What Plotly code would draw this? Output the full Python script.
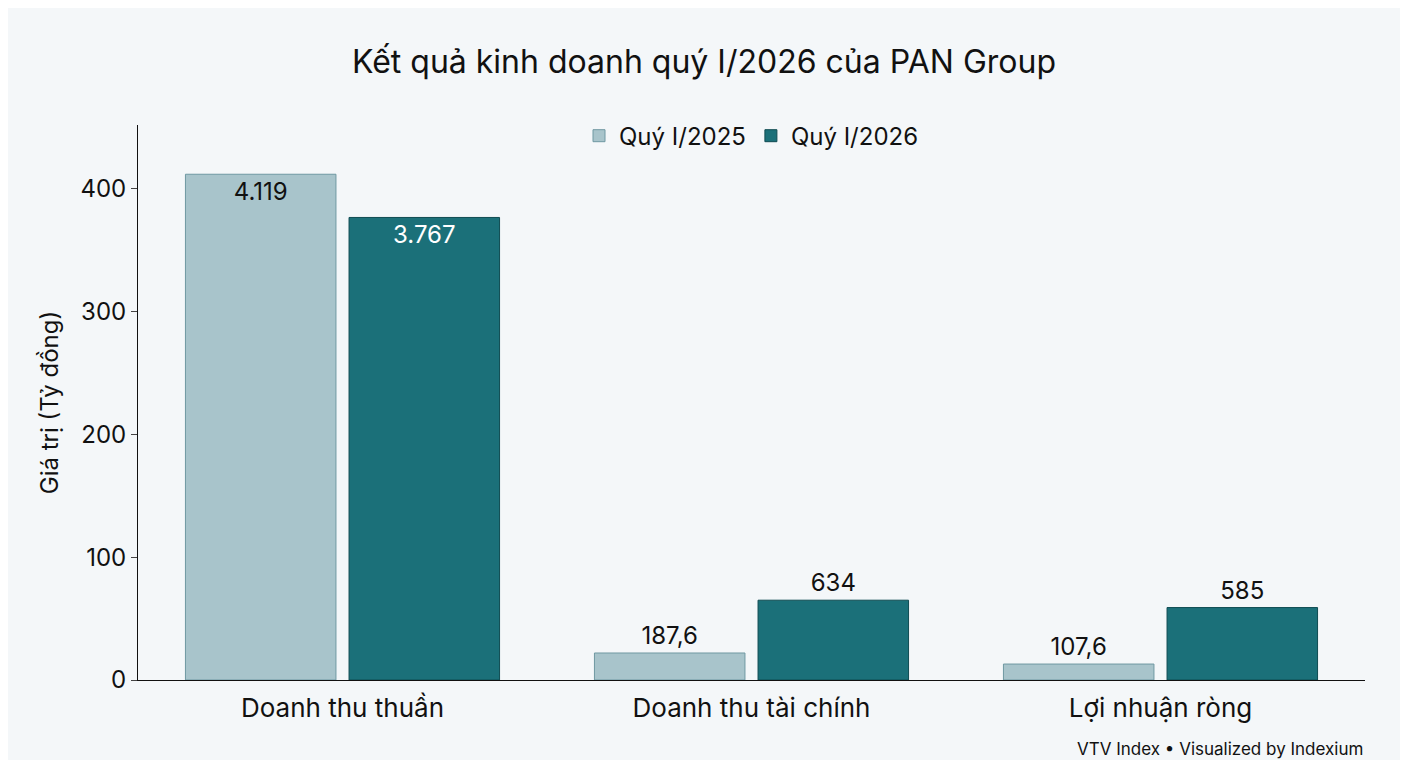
import plotly.graph_objects as go

categories = ["Doanh thu thuần", "Doanh thu tài chính", "Lợi nhuận ròng"]
heights_2025 = [411.9, 22, 13]
heights_2026 = [376.7, 65, 59]
labels_2025 = ["4.119", "187,6", "107,6"]
labels_2026 = ["3.767", "634", "585"]

fig = go.Figure()
fig.add_bar(name="Quý I/2025", x=categories, y=heights_2025, text=labels_2025,
            textposition=["inside", "outside", "outside"], insidetextanchor="end",
            marker=dict(color="#a8c4cb", line=dict(color="#6f98a2", width=1)),
            outsidetextfont=dict(size=24, color="#111"),
            insidetextfont=dict(size=24, color="#111"), cliponaxis=False)
fig.add_bar(name="Quý I/2026", x=categories, y=heights_2026, text=labels_2026,
            textposition=["inside", "outside", "outside"], insidetextanchor="end",
            marker=dict(color="#1b7079", line=dict(color="#0f4c52", width=1)),
            outsidetextfont=dict(size=24, color="#111"),
            insidetextfont=dict(size=24, color="white"), cliponaxis=False)
fig.update_layout(
    width=1392, height=752, barmode="group", bargap=0.2, bargroupgap=0.08,
    paper_bgcolor="#f4f7f9", plot_bgcolor="#f4f7f9",
    font=dict(family="Inter, Noto Sans, sans-serif", size=22, color="#111"),
    title=dict(text="Kết quả kinh doanh quý I/2026 của PAN Group", x=0.5, xanchor="center",
               y=0.928, yanchor="middle", font=dict(size=32)),
    margin=dict(l=130, r=35, t=117, b=80),
    legend=dict(orientation="h", x=0.5, xanchor="center", y=0.98, yanchor="middle",
                font=dict(size=24), bgcolor="rgba(0,0,0,0)"),
    showlegend=True,
)
fig.update_yaxes(range=[0, 452], tickvals=[0, 100, 200, 300, 400], showgrid=False,
                 showline=True, linecolor="#111", ticks="outside", ticklen=6,
                 tickfont=dict(size=24), zeroline=False,
                 title=dict(text="Giá trị (Tỷ đồng)", font=dict(size=24)))
fig.update_xaxes(showline=True, linecolor="#111", tickfont=dict(size=26),
                 ticks="outside", ticklen=5, tickcolor="rgba(0,0,0,0)")
fig.add_annotation(text="VTV Index • Visualized by Indexium", xref="paper", yref="paper",
                   x=1.0, y=-0.125, xanchor="right", yanchor="middle", showarrow=False,
                   font=dict(size=17, color="#111"))
fig.write_html("out.html")
